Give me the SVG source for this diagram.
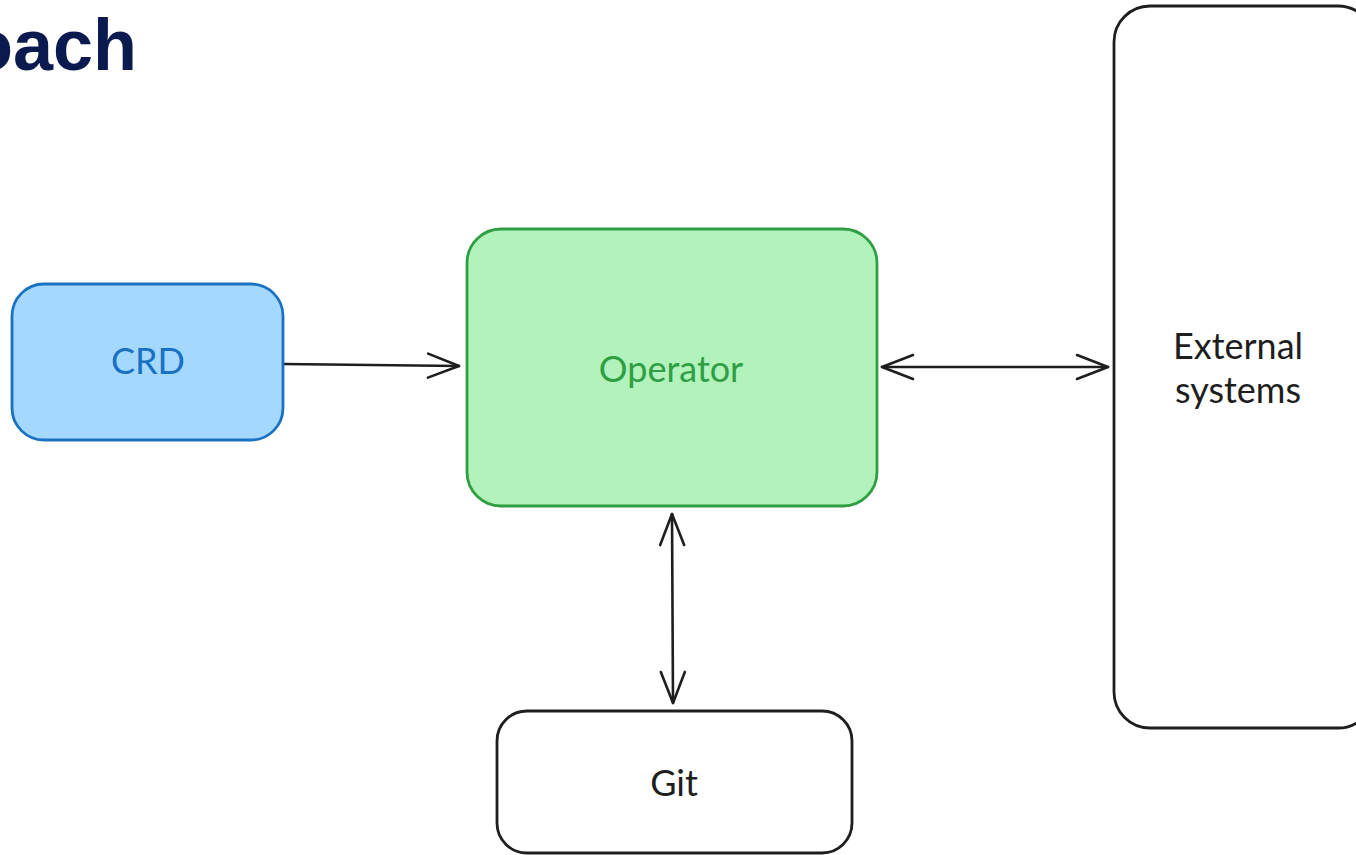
<svg xmlns="http://www.w3.org/2000/svg" width="1356" height="855" viewBox="0 0 1356 855">
  <style>
    .title { font-family: "Liberation Sans", Arial, sans-serif; font-weight: bold; font-size: 72px; fill: #0b1a4e; }
    .label { font-family: Lato, "Open Sans", sans-serif; font-size: 36px; text-anchor: middle; dominant-baseline: central; }
    .box { stroke-width: 2.8; stroke-linejoin: round; }
    .edge { fill: none; stroke: #1e1e1e; stroke-width: 2.6; stroke-linecap: round; }
  </style>
  <defs>
    <marker id="chev" viewBox="-33 -15 36 30" refX="0" refY="0" markerWidth="36" markerHeight="30" markerUnits="userSpaceOnUse" orient="auto-start-reverse">
      <path d="M -31 -12 L 0 0 L -31 12" fill="none" stroke="#1e1e1e" stroke-width="2.6" stroke-linecap="round" stroke-linejoin="round"/>
    </marker>
  </defs>
  <rect width="1356" height="855" fill="#ffffff"/>

  <text class="title" x="137" y="70" text-anchor="end">oach</text>

  <g id="connectors">
    <path class="edge" d="M 283 364 L 459 366" marker-end="url(#chev)"/>
    <path class="edge" d="M 882 367 L 1108 367" marker-start="url(#chev)" marker-end="url(#chev)"/>
    <path class="edge" d="M 672 514 L 673 703" marker-start="url(#chev)" marker-end="url(#chev)"/>
  </g>

  <g id="crd">
    <rect class="box" x="12" y="284" width="271" height="156" rx="32" fill="#a5d8ff" stroke="#1971c2"/>
    <text class="label" x="148" y="360" fill="#1971c2">CRD</text>
  </g>

  <g id="operator">
    <rect class="box" x="467" y="229" width="410" height="277" rx="34" fill="#b2f2bb" stroke="#2f9e44"/>
    <text class="label" x="671" y="368" fill="#2f9e44">Operator</text>
  </g>

  <g id="external-systems">
    <rect class="box" x="1114" y="6" width="260" height="722" rx="36" fill="#ffffff" stroke="#1e1e1e"/>
    <text class="label" x="1238" y="345" fill="#1e1e1e">External</text>
    <text class="label" x="1238" y="389" fill="#1e1e1e">systems</text>
  </g>

  <g id="git">
    <rect class="box" x="497" y="711" width="355" height="142" rx="30" fill="#ffffff" stroke="#1e1e1e"/>
    <text class="label" x="674" y="782" fill="#1e1e1e">Git</text>
  </g>
</svg>
